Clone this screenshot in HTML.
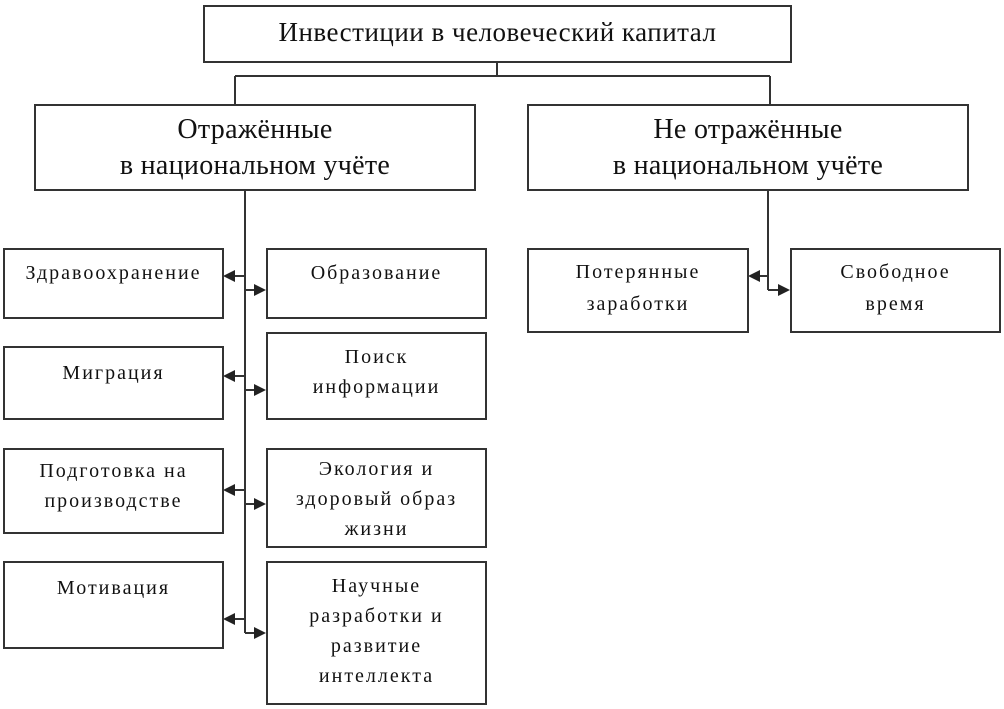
<!DOCTYPE html>
<html><head><meta charset="utf-8"><style>
body{margin:0;width:1004px;height:709px;background:#fff;overflow:hidden;position:relative;font-family:"Liberation Serif",serif;color:#111}
.b{position:absolute;border:2px solid #333;box-sizing:border-box;text-align:center;background:#fff;white-space:nowrap}
.s{font-size:20px;line-height:30px;letter-spacing:2px;padding-top:8px}
.m{font-size:28px;line-height:36px;letter-spacing:0.3px;padding-top:6px}
svg{position:absolute;left:0;top:0}
</style></head><body>
<svg width="1004" height="709">
<g stroke="#333" stroke-width="2" fill="none">
<path d="M497 62V76M235 76H770M235 76V104M770 76V104"/>
<path d="M245 190V633M768 190V290"/>
<path d="M245 276H232M245 376H232M245 490H232M245 619H232"/>
<path d="M245 290H256M245 390H256M245 504H256M245 633H256"/>
<path d="M768 276H758M768 290H780"/>
</g>
<g fill="#222">
<path d="M223 276l12-6v12z"/><path d="M223 376l12-6v12z"/><path d="M223 490l12-6v12z"/><path d="M223 619l12-6v12z"/>
<path d="M266 290l-12-6v12z"/><path d="M266 390l-12-6v12z"/><path d="M266 504l-12-6v12z"/><path d="M266 633l-12-6v12z"/>
<path d="M748 276l12-6v12z"/><path d="M790 290l-12-6v12z"/>
</g>
</svg>
<div class="b" style="left:203px;top:5px;width:589px;height:58px;font-size:27px;letter-spacing:0.5px;line-height:50px">Инвестиции в человеческий капитал</div>
<div class="b m" style="left:34px;top:104px;width:442px;height:87px">Отражённые<br>в национальном учёте</div>
<div class="b m" style="left:527px;top:104px;width:442px;height:87px">Не отражённые<br>в национальном учёте</div>

<div class="b s" style="left:3px;top:248px;width:221px;height:71px;padding-top:8px">Здравоохранение</div>
<div class="b s" style="left:3px;top:346px;width:221px;height:74px;padding-top:10px">Миграция</div>
<div class="b s" style="left:3px;top:448px;width:221px;height:86px;padding-top:6px">Подготовка на<br>производстве</div>
<div class="b s" style="left:3px;top:561px;width:221px;height:88px;padding-top:10px">Мотивация</div>

<div class="b s" style="left:266px;top:248px;width:221px;height:71px;padding-top:8px">Образование</div>
<div class="b s" style="left:266px;top:332px;width:221px;height:88px;padding-top:8px">Поиск<br>информации</div>
<div class="b s" style="left:266px;top:448px;width:221px;height:100px;padding-top:4px">Экология и<br>здоровый образ<br>жизни</div>
<div class="b s" style="left:266px;top:561px;width:221px;height:144px;padding-top:8px">Научные<br>разработки и<br>развитие<br>интеллекта</div>

<div class="b s" style="left:527px;top:248px;width:222px;height:85px;padding-top:6px;line-height:32px">Потерянные<br>заработки</div>
<div class="b s" style="left:790px;top:248px;width:211px;height:85px;padding-top:6px;line-height:32px">Свободное<br>время</div>
</body></html>
